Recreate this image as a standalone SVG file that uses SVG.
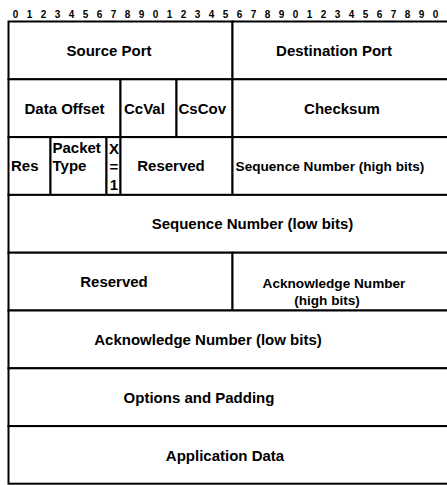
<svg xmlns="http://www.w3.org/2000/svg" width="447" height="485" viewBox="0 0 447 485">
  <style>
    .cell { fill: #ffffff; stroke: #000000; stroke-width: 2; }
    .lbl { font-family: "Liberation Sans", Arial, sans-serif; font-weight: bold; font-size: 15px; fill: #000000; }
    .sm { font-size: 13.6px; }
    .bit { font-family: "Liberation Sans", Arial, sans-serif; font-weight: bold; font-size: 10px; fill: #000000; text-anchor: middle; }
    .mid { text-anchor: middle; }
  </style>

  <rect x="0" y="0" width="447" height="485" fill="#ffffff"/>

  <!-- bit ruler: one digit per bit, 14px per bit starting at x=8.5 -->
  <g id="ruler">
    <text class="bit" x="15.5" y="17.5">0</text>
    <text class="bit" x="29.5" y="17.5">1</text>
    <text class="bit" x="43.5" y="17.5">2</text>
    <text class="bit" x="57.5" y="17.5">3</text>
    <text class="bit" x="71.5" y="17.5">4</text>
    <text class="bit" x="85.5" y="17.5">5</text>
    <text class="bit" x="99.5" y="17.5">6</text>
    <text class="bit" x="113.5" y="17.5">7</text>
    <text class="bit" x="127.5" y="17.5">8</text>
    <text class="bit" x="141.5" y="17.5">9</text>
    <text class="bit" x="155.5" y="17.5">0</text>
    <text class="bit" x="169.5" y="17.5">1</text>
    <text class="bit" x="183.5" y="17.5">2</text>
    <text class="bit" x="197.5" y="17.5">3</text>
    <text class="bit" x="211.5" y="17.5">4</text>
    <text class="bit" x="225.5" y="17.5">5</text>
    <text class="bit" x="239.5" y="17.5">6</text>
    <text class="bit" x="253.5" y="17.5">7</text>
    <text class="bit" x="267.5" y="17.5">8</text>
    <text class="bit" x="281.5" y="17.5">9</text>
    <text class="bit" x="295.5" y="17.5">0</text>
    <text class="bit" x="309.5" y="17.5">1</text>
    <text class="bit" x="323.5" y="17.5">2</text>
    <text class="bit" x="337.5" y="17.5">3</text>
    <text class="bit" x="351.5" y="17.5">4</text>
    <text class="bit" x="365.5" y="17.5">5</text>
    <text class="bit" x="379.5" y="17.5">6</text>
    <text class="bit" x="393.5" y="17.5">7</text>
    <text class="bit" x="407.5" y="17.5">8</text>
    <text class="bit" x="421.5" y="17.5">9</text>
    <text class="bit" x="435.5" y="17.5">0</text>
    <text class="bit" x="449.5" y="17.5">1</text>
  </g>

  <!-- row 1 -->
  <g id="source-port">
    <rect class="cell" x="8.5" y="21.5" width="224" height="57.8"/>
    <text class="lbl mid" x="109" y="55.8">Source Port</text>
  </g>
  <g id="destination-port">
    <rect class="cell" x="232.5" y="21.5" width="224" height="57.8"/>
    <text class="lbl mid" x="334" y="55.8">Destination Port</text>
  </g>

  <!-- row 2 -->
  <g id="data-offset">
    <rect class="cell" x="8.5" y="79.3" width="112" height="57.8"/>
    <text class="lbl mid" x="64.5" y="113.6">Data Offset</text>
  </g>
  <g id="ccval">
    <rect class="cell" x="120.5" y="79.3" width="56" height="57.8"/>
    <text class="lbl" x="124" y="113.6">CcVal</text>
  </g>
  <g id="cscov">
    <rect class="cell" x="176.5" y="79.3" width="56" height="57.8"/>
    <text class="lbl" x="178.5" y="113.6">CsCov</text>
  </g>
  <g id="checksum">
    <rect class="cell" x="232.5" y="79.3" width="224" height="57.8"/>
    <text class="lbl mid" x="342" y="113.6">Checksum</text>
  </g>

  <!-- row 3 -->
  <g id="res">
    <rect class="cell" x="8.5" y="137.1" width="42" height="57.8"/>
    <text class="lbl" x="11" y="171.4">Res</text>
  </g>
  <g id="packet-type">
    <rect class="cell" x="50.5" y="137.1" width="56" height="57.8"/>
    <text class="lbl" x="52.5" y="153">Packet</text>
    <text class="lbl" x="52.5" y="171.4">Type</text>
  </g>
  <g id="x-flag">
    <rect class="cell" x="106.5" y="137.1" width="14" height="57.8"/>
    <text class="lbl mid" x="114" y="153.5">X</text>
    <text class="lbl mid" x="114" y="171.5">=</text>
    <text class="lbl mid" x="114" y="189.5">1</text>
  </g>
  <g id="reserved-1">
    <rect class="cell" x="120.5" y="137.1" width="112" height="57.8"/>
    <text class="lbl mid" x="171" y="171.4">Reserved</text>
  </g>
  <g id="seq-high">
    <rect class="cell" x="232.5" y="137.1" width="224" height="57.8"/>
    <text class="lbl sm mid" x="330" y="171">Sequence Number (high bits)</text>
  </g>

  <!-- row 4 -->
  <g id="seq-low">
    <rect class="cell" x="8.5" y="194.9" width="448" height="57.8"/>
    <text class="lbl mid" x="252.5" y="229.2">Sequence Number (low bits)</text>
  </g>

  <!-- row 5 -->
  <g id="reserved-2">
    <rect class="cell" x="8.5" y="252.7" width="224" height="57.8"/>
    <text class="lbl mid" x="114" y="287">Reserved</text>
  </g>
  <g id="ack-high">
    <rect class="cell" x="232.5" y="252.7" width="224" height="57.8"/>
    <text class="lbl sm mid" x="334" y="288">Acknowledge Number</text>
    <text class="lbl sm mid" x="327" y="304.5">(high bits)</text>
  </g>

  <!-- row 6 -->
  <g id="ack-low">
    <rect class="cell" x="8.5" y="310.5" width="448" height="57.8"/>
    <text class="lbl mid" x="208" y="344.8">Acknowledge Number (low bits)</text>
  </g>

  <!-- row 7 -->
  <g id="options">
    <rect class="cell" x="8.5" y="368.3" width="448" height="57.8"/>
    <text class="lbl mid" x="199" y="403">Options and Padding</text>
  </g>

  <!-- row 8 -->
  <g id="app-data">
    <rect class="cell" x="8.5" y="426.1" width="448" height="57.6"/>
    <text class="lbl mid" x="225" y="460.6">Application Data</text>
  </g>

  <g id="connectors"></g>
</svg>
